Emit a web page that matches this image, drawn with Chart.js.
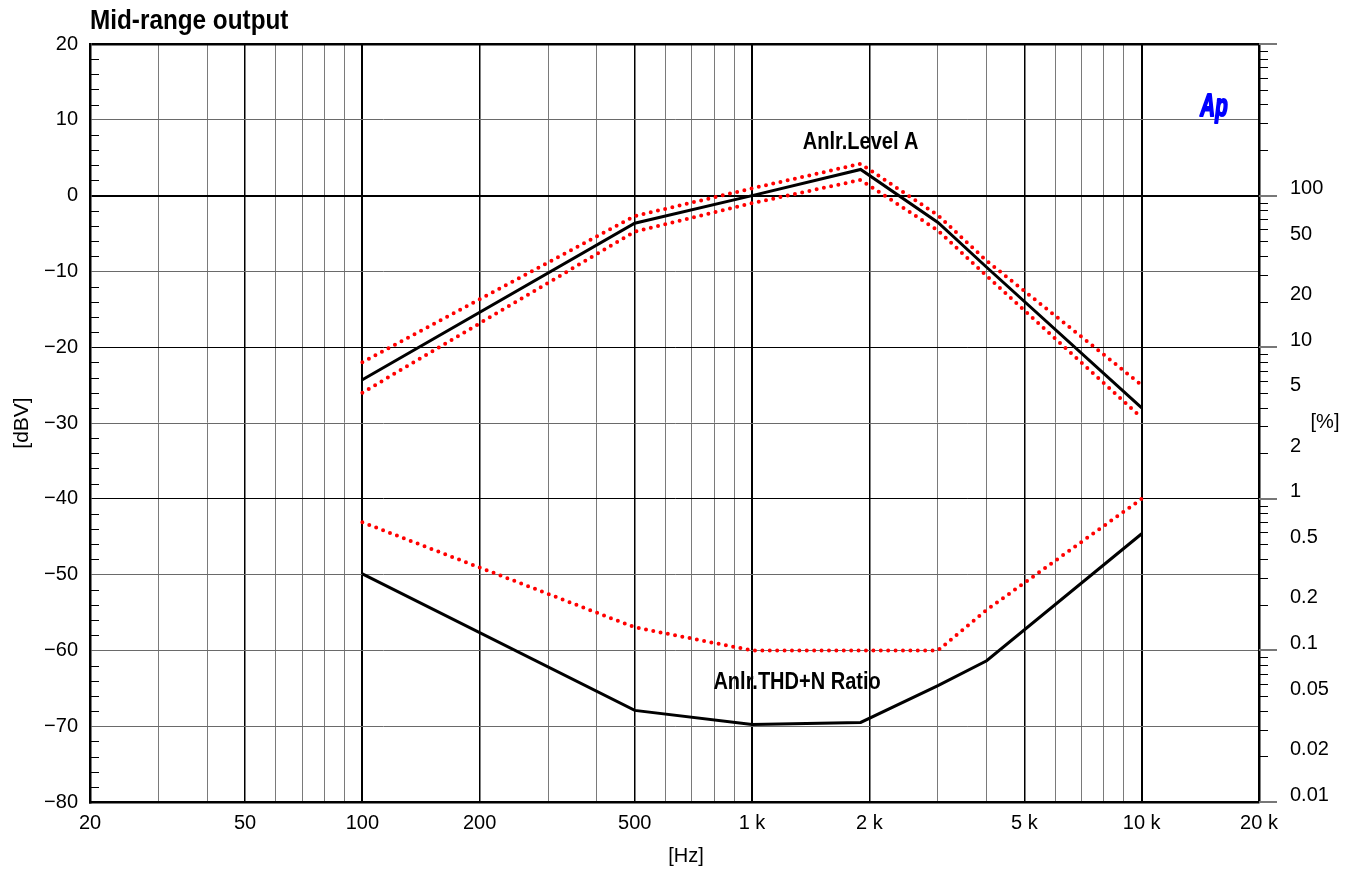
<!DOCTYPE html>
<html>
<head>
<meta charset="utf-8">
<title>Mid-range output</title>
<script src="https://cdn.jsdelivr.net/npm/chart.js@4.4.1/dist/chart.umd.min.js"></script>
<style>
  html, body { margin: 0; padding: 0; background: #fff; }
  canvas { display: block; }
</style>
</head>
<body>
<canvas id="chart" width="1356" height="870"></canvas>
<script>
// Sweep frequencies (Hz)
const sweepFreqs = [100, 500, 1000, 1900, 3000, 4000, 10000];

// Analyzer level, channel A (dBV)
const levelA = [-24.3, -3.65, 0.0, 3.45, -3.55, -9.45, -28.0];

// Level tolerance window (dBV)
const levelUpperLimit = [-22.0, -2.7, 0.95, 4.2, -2.6, -8.6, -25.0];
const levelLowerLimit = [-26.0, -4.75, -1.0, 2.07, -4.6, -10.6, -29.3];

// THD+N ratio (%)
const thdRatio = [0.32, 0.0402, 0.0324, 0.0335, 0.0585, 0.0855, 0.588];

// THD+N upper limit (%)
const thdLimitFreqs = [100, 500, 1000, 3000, 4000, 10000];
const thdLimit = [0.70, 0.142, 0.1, 0.1, 0.185, 1.0];

// Axis ticks
const freqGridTicks = [20, 30, 40, 50, 60, 70, 80, 90,
  100, 200, 300, 400, 500, 600, 700, 800, 900,
  1000, 2000, 3000, 4000, 5000, 6000, 7000, 8000, 9000,
  10000, 20000];
const freqLabelTicks = [20, 50, 100, 200, 500, 1000, 2000, 5000, 10000, 20000];
const freqDecades = [100, 1000, 10000];
const dbvTicks = [20, 10, 0, -10, -20, -30, -40, -50, -60, -70, -80];
const dbvMinorTicks = [18, 16, 14, 12, 8, 6, 4, 2, -2, -4, -6, -8,
  -12, -14, -16, -18, -22, -24, -26, -28, -32, -34, -36, -38,
  -42, -44, -46, -48, -52, -54, -56, -58, -62, -64, -66, -68,
  -72, -74, -76, -78];
const pctLabelTicks = [0.01, 0.02, 0.05, 0.1, 0.2, 0.5, 1, 2, 5, 10, 20, 50, 100];
const pctDecades = [0.01, 0.1, 1, 10, 100, 1000];
const pctMinorSteps = [2, 3, 4, 5, 6, 7, 8, 9];

const FONT = '"Liberation Sans", Arial, sans-serif';
Chart.defaults.font.family = FONT;
Chart.defaults.color = '#000';

const toPoints = (xs, ys) => xs.map((f, i) => ({ x: f, y: ys[i] }));
const freqLabel = v => v >= 1000 ? (v / 1000) + ' k' : String(v);
const dbvLabel = v => v < 0 ? '\u2212' + Math.abs(v) : String(v);
const pctLabel = v => String(v);

const solid = { borderColor: '#000', borderWidth: 3, pointRadius: 0, tension: 0, borderJoinStyle: 'miter' };
const dotted = { borderColor: '#ff0000', borderWidth: 4, borderDash: [0, 7.4], borderCapStyle: 'round', pointRadius: 0, tension: 0 };

// condensed text: drawn with a horizontal squeeze
function narrowText(ctx, text, x, y, squeeze, align, outline) {
  ctx.save();
  ctx.translate(x, y);
  ctx.scale(squeeze, 1);
  ctx.textAlign = align;
  if (outline) {
    ctx.strokeStyle = ctx.fillStyle;
    ctx.lineWidth = outline;
    ctx.lineJoin = 'round';
    ctx.strokeText(text, 0, 0);
  }
  ctx.fillText(text, 0, 0);
  ctx.restore();
}

// Tick marks, axis titles, curve labels and logo
const decorations = {
  id: 'decorations',
  afterDraw(chart) {
    const { ctx, chartArea: a, scales: { x, y, y2 } } = chart;
    const hline = (x1, x2, py) => { ctx.beginPath(); ctx.moveTo(x1, py); ctx.lineTo(x2, py); ctx.stroke(); };
    ctx.save();

    // minor ticks on the dBV axis, pointing into the plot
    ctx.strokeStyle = '#000';
    ctx.lineWidth = 1;
    dbvMinorTicks.forEach(v => hline(a.left, a.left + 9, Math.round(y.getPixelForValue(v)) + 0.5));

    // ticks on the % axis, pointing outwards
    pctDecades.slice(0, -1).forEach(d => pctMinorSteps.forEach(m => {
      hline(a.right, a.right + 9, Math.round(y2.getPixelForValue(m * d)) + 0.5);
    }));
    ctx.strokeStyle = '#777';
    ctx.lineWidth = 2;
    pctDecades.forEach(d => hline(a.right, a.right + 18, Math.round(y2.getPixelForValue(d))));

    ctx.fillStyle = '#000';
    ctx.textBaseline = 'middle';

    // chart title
    ctx.font = 'bold 27px ' + FONT;
    narrowText(ctx, 'Mid-range output', a.left, 22, 0.9, 'left');

    // axis titles
    ctx.font = '20px ' + FONT;
    ctx.textAlign = 'center';
    ctx.fillText('[Hz]', 686, 856);
    ctx.fillText('[%]', a.right + 66, y2.getPixelForValue(3.2));
    ctx.save();
    ctx.translate(22, y.getPixelForValue(-30));
    ctx.rotate(-Math.PI / 2);
    ctx.font = '21px ' + FONT;
    ctx.fillText('[dBV]', 0, 0);
    ctx.restore();

    // curve labels
    ctx.font = 'bold 23px ' + FONT;
    narrowText(ctx, 'Anlr.Level A', x.getPixelForValue(1900), y.getPixelForValue(7), 0.87, 'center');
    narrowText(ctx, 'Anlr.THD+N Ratio', x.getPixelForValue(1305), y2.getPixelForValue(0.061), 0.87, 'center');

    // logo
    ctx.fillStyle = '#0000ff';
    ctx.font = 'italic bold 31px ' + FONT;
    narrowText(ctx, 'Ap', a.right - 45, y.getPixelForValue(11.6), 0.66, 'center', 2);

    ctx.restore();
  }
};

new Chart(document.getElementById('chart'), {
  type: 'line',
  data: {
    datasets: [
      { ...solid, data: toPoints(sweepFreqs, levelA), yAxisID: 'y' },
      { ...solid, data: toPoints(sweepFreqs, thdRatio), yAxisID: 'y2' },
      { ...dotted, data: toPoints(sweepFreqs, levelUpperLimit), yAxisID: 'y' },
      { ...dotted, data: toPoints(sweepFreqs, levelLowerLimit), yAxisID: 'y' },
      { ...dotted, data: toPoints(thdLimitFreqs, thdLimit), yAxisID: 'y2' }
    ]
  },
  options: {
    responsive: false,
    animation: false,
    events: [],
    layout: { padding: { top: 44, left: 0, right: 0, bottom: 0 } },
    plugins: { legend: { display: false }, tooltip: { enabled: false }, title: { display: false } },
    scales: {
      x: {
        type: 'logarithmic',
        min: 20, max: 20000,
        afterBuildTicks: s => { s.ticks = freqGridTicks.map(v => ({ value: v })); },
        afterFit: s => { s.height = 68; },
        ticks: {
          autoSkip: false, maxRotation: 0, minRotation: 0, padding: 9,
          font: { size: 20 }, color: '#000',
          callback: v => freqLabelTicks.includes(v) ? freqLabel(v) : ''
        },
        grid: {
          drawTicks: false,
          color: c => freqLabelTicks.includes(c.tick.value) ? '#000' : '#7a7a7a',
          lineWidth: c => freqDecades.includes(c.tick.value) ? 2 : (freqLabelTicks.includes(c.tick.value) ? 1.5 : 1)
        },
        border: { color: '#000', width: 2.5 }
      },
      y: {
        type: 'linear',
        position: 'left',
        min: -80, max: 20,
        afterBuildTicks: s => { s.ticks = dbvTicks.map(v => ({ value: v })); },
        afterFit: s => { s.width = 90; },
        ticks: { padding: 12, font: { size: 20 }, color: '#000', callback: v => dbvLabel(v) },
        grid: {
          drawTicks: false,
          color: c => [20, 0, -20, -40].includes(c.tick.value) ? '#000' : '#6a6a6a',
          lineWidth: c => c.tick.value === 20 ? 2.5 : (c.tick.value === 0 ? 2 : 1)
        },
        border: { color: '#000', width: 2.5 }
      },
      y2: {
        type: 'logarithmic',
        position: 'right',
        min: 0.01, max: 1000,
        afterBuildTicks: s => { s.ticks = pctLabelTicks.map(v => ({ value: v })); },
        afterFit: s => { s.width = 97; },
        ticks: { padding: 31, labelOffset: -7, font: { size: 20 }, color: '#000', callback: v => pctLabel(v) },
        grid: { drawOnChartArea: false, drawTicks: false },
        border: { color: '#000', width: 2.5 }
      }
    }
  },
  plugins: [decorations]
});
</script>
</body>
</html>
